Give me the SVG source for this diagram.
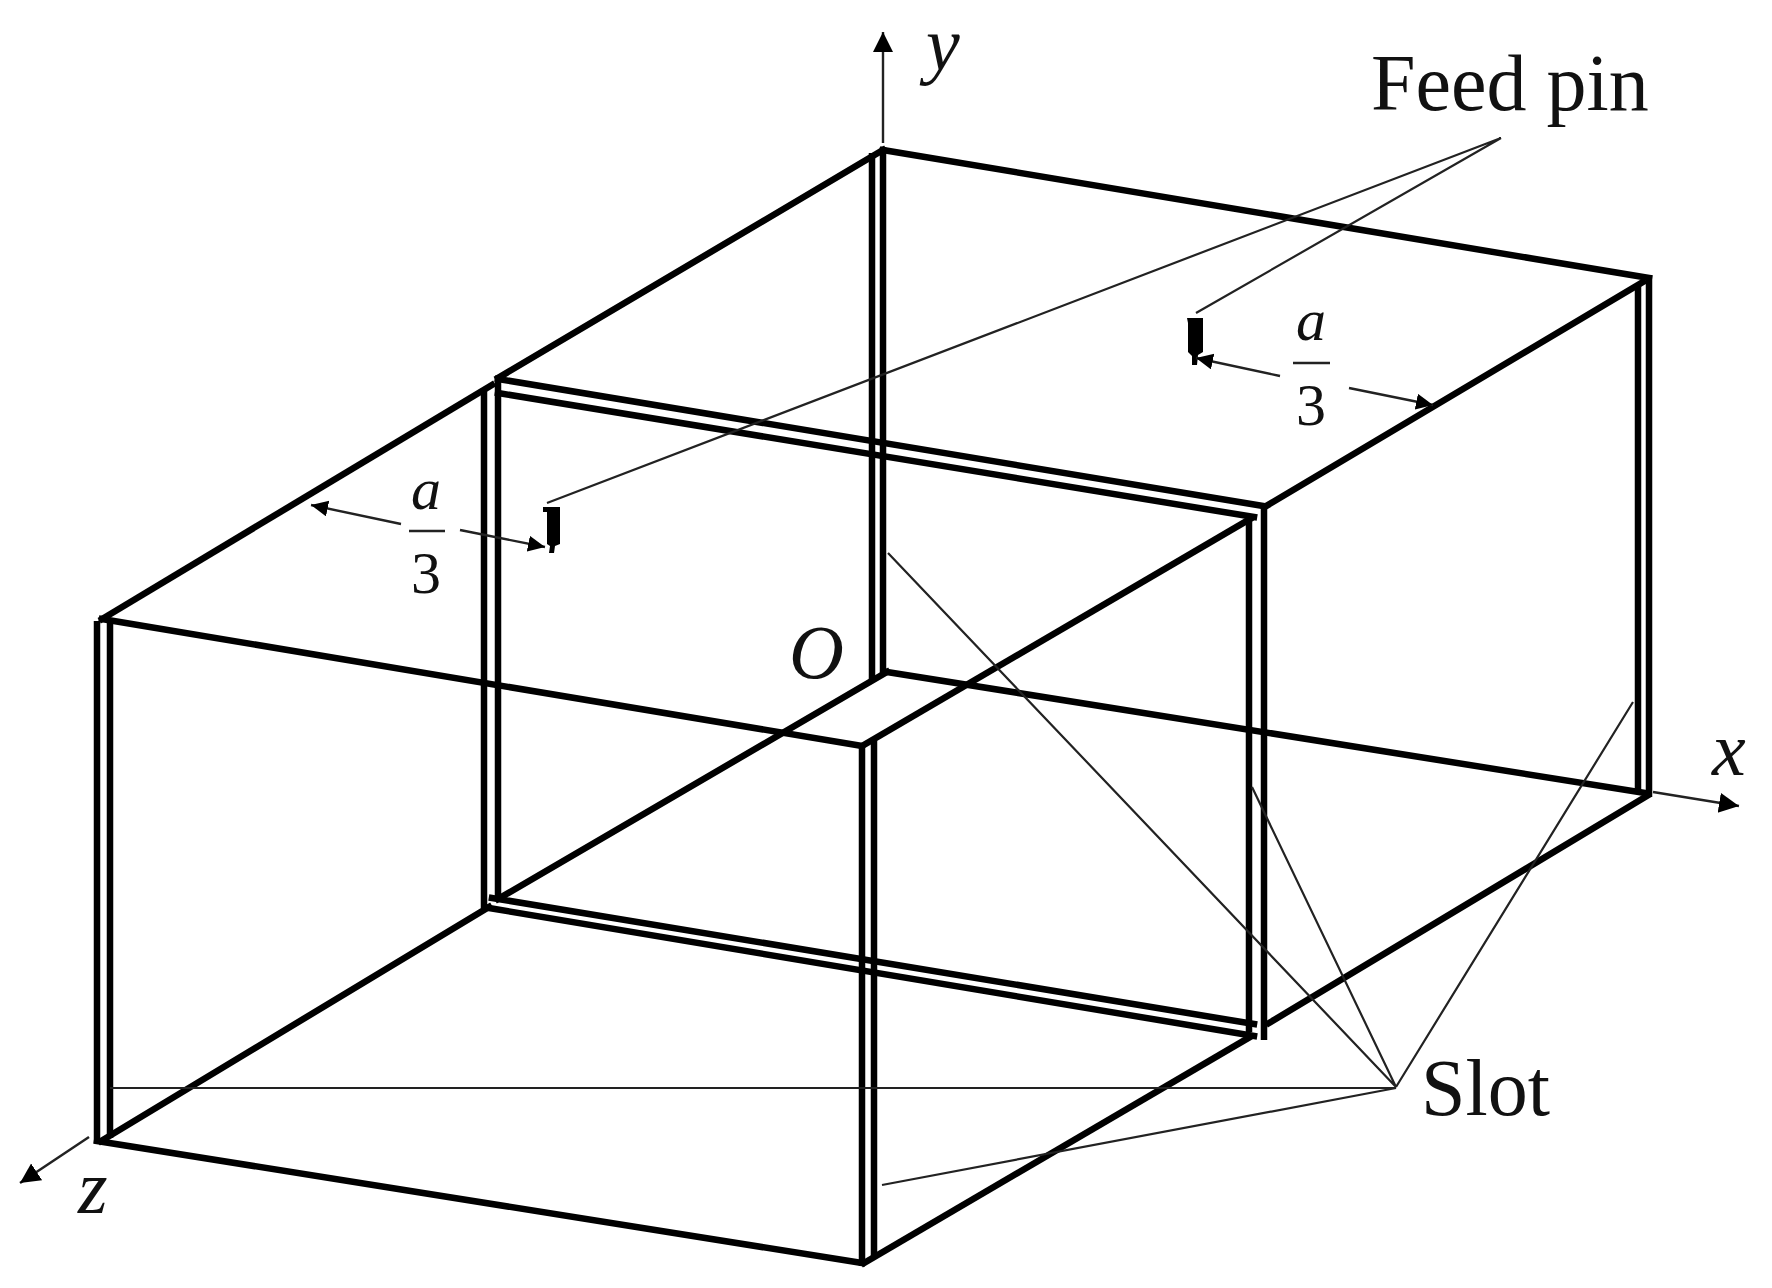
<svg xmlns="http://www.w3.org/2000/svg" width="1772" height="1288" viewBox="0 0 1772 1288">
<style>
.h{stroke:#000;stroke-width:6.5;fill:none;stroke-linecap:square}
.v{stroke:#000;stroke-width:6.5;fill:none;stroke-linecap:butt}
.t{stroke:#222;stroke-width:2.2;fill:none}
.a{stroke:#222;stroke-width:2.4;fill:none}
text{font-family:"Liberation Serif","Times New Roman",serif;fill:#111}
.i{font-style:italic;font-size:76px}
.f{font-size:60px;text-anchor:middle}
.l{font-size:80px}
</style>
<defs>
<marker id="big" markerUnits="userSpaceOnUse" markerWidth="22" markerHeight="22" refX="20" refY="10" orient="auto"><path d="M0 0L20 10L0 20Z" fill="#000"/></marker>
<marker id="small" markerUnits="userSpaceOnUse" markerWidth="18" markerHeight="18" refX="17" refY="8" orient="auto"><path d="M0 0L17 8L0 16Z" fill="#000"/></marker>
</defs>
<rect width="1772" height="1288" fill="#fff"/>
<g id="box">
<path class="v" d="M872 153V681M883 147V674"/>
<path class="v" d="M1638 285V792M1649 275V797"/>
<path class="v" d="M97 621V1143M110 621V1138"/>
<path class="v" d="M484 388V908M498 378V900"/>
<path class="v" d="M862 744V1266M874 741V1258"/>
<path class="v" d="M1249 517V1032M1264 506V1040"/>
<path class="h" d="M883 150L1649 278"/>
<path class="h" d="M883 150L498 378"/>
<path class="h" d="M1643 282L1268 505"/>
<path class="h" d="M492 385L102 619"/>
<path class="h" d="M498 379L1263 506"/>
<path class="h" d="M498 393L1254 517"/>
<path class="h" d="M102 619L862 746"/>
<path class="h" d="M862 746L1250 519"/>
<path class="h" d="M887 672L1645 793"/>
<path class="h" d="M887 672L498 899"/>
<path class="h" d="M492 898L1254 1024"/>
<path class="h" d="M489 908L1254 1036"/>
<path class="h" d="M489 907L101 1141"/>
<path class="h" d="M97 1141L862 1263"/>
<path class="h" d="M864 1263L1250 1037"/>
<path class="h" d="M1269 1023L1647 796"/>
</g>
<g id="feed-pin-left"><path d="M543 507H560V512V544L555 546L554 553H549L550 546L547 544V512L543 512Z" fill="#000"/></g>
<g id="feed-pin-right"><path d="M1187 318H1203V322V352L1198 355L1197 365H1192L1192 356L1188 352V323Z" fill="#000"/></g>
<g id="connectors">
<path class="t" d="M547 503L1501 138M1196 313L1501 138"/>
<path class="t" d="M110 1088H1396L882 1185M1396 1087L888 553M1396 1087L1252 787M1396 1087L1633 702"/>
<path class="a" d="M883 143V32" marker-end="url(#big)"/>
<path class="a" d="M1653 792L1739 806" marker-end="url(#big)"/>
<path class="a" d="M89 1137L20 1183" marker-end="url(#big)"/>
<path class="a" d="M1280 376L1196 358" marker-end="url(#small)"/>
<path class="a" d="M1349 388L1433 405" marker-end="url(#small)"/>
<path class="a" d="M401 524L311 505" marker-end="url(#small)"/>
<path class="a" d="M460 530L545 547" marker-end="url(#small)"/>
<path class="a" d="M1293 363H1330M409 531H445"/>
</g>
<g id="labels">
<text class="i" x="926" y="70">y</text>
<text class="i" x="1712" y="775">x</text>
<text class="i" x="78" y="1213">z</text>
<text class="i" x="789" y="678">O</text>
<text class="l" x="1371" y="110">Feed pin</text>
<text class="l" x="1421" y="1115">Slot</text>
<text class="f" x="1311" y="340" font-style="italic">a</text>
<text class="f" x="1311" y="425">3</text>
<text class="f" x="426" y="509" font-style="italic">a</text>
<text class="f" x="426" y="593">3</text>
</g>
</svg>
